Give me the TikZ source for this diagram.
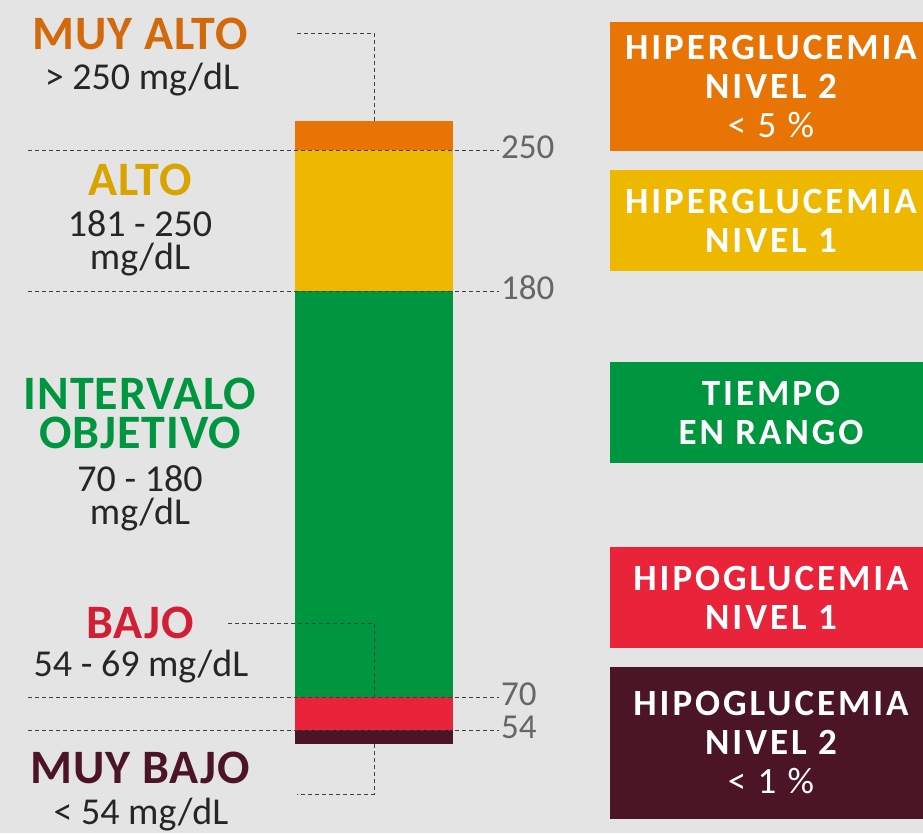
\documentclass[tikz,border=0pt]{standalone}
\usepackage{fontspec}
\setmainfont{Carlito}
\newfontfamily\boxfont[LetterSpace=8]{Carlito}
\newfontfamily\lblfont[LetterSpace=2]{Carlito}
\usetikzlibrary{positioning}

\definecolor{bgGray}{HTML}{E4E4E4}
\definecolor{cMuyAlto}{HTML}{D2690A}
\definecolor{cAlto}{HTML}{D9A400}
\definecolor{cVerde}{HTML}{00963F}
\definecolor{cBajo}{HTML}{D11F35}
\definecolor{cMuyBajo}{HTML}{4B1526}
\definecolor{fOrange}{HTML}{E97406}
\definecolor{fYellow}{HTML}{EEB800}
\definecolor{fRed}{HTML}{E8233A}

\tikzset{
  guide/.style={draw=black!75, line width=0.9pt, dash pattern=on 4pt off 3pt},
  seg/.style={minimum width=158pt, inner sep=0pt, outer sep=0pt},
  level/.style={font=\fontsize{35}{35}\selectfont, text=black!60, anchor=west, inner sep=2pt},
  lbltitle/.style={font=\lblfont\bfseries\fontsize{48}{39}\selectfont, align=center, inner sep=0pt},
  rangetxt/.style={font=\fontsize{38}{33}\selectfont, text=black!85, align=center, inner sep=0pt},
  infobox/.style={minimum width=322pt, text=white, align=center, inner sep=0pt,
    font=\boxfont\bfseries\fontsize{37}{39}\selectfont}
}

\begin{document}
\begin{tikzpicture}[x=1pt, y=-1pt]
        \fill[bgGray] (0,0) rectangle (923,833);
        \useasboundingbox (0,0) rectangle (923,833);

        % barra de niveles
        \node[seg, fill=fOrange, minimum height=29pt] (sMA) at (374,135.5) {};
        \node[seg, fill=fYellow, minimum height=141pt] (sA) at (374,220.5) {};
        \node[seg, fill=cVerde, minimum height=406pt] (sIO) at (374,494) {};
        \node[seg, fill=fRed, minimum height=33pt] (sB) at (374,713.5) {};
        \node[seg, fill=cMuyBajo, minimum height=14pt] (sMB) at (374,737) {};

        % valores
        \node[level] (n250) at (499,147) {250};
        \node[level] (n180) at (499,288) {180};
        \node[level] (n70) at (499,694) {70};
        \node[level] (n54) at (499,727) {54};

        \coordinate (l250) at (28,150);
        \coordinate (l180) at (28,291);
        \coordinate (l70) at (28,697);
        \coordinate (l54) at (28,730);

        \draw[guide] (l250) -- (l250 -| n250.west);
        \draw[guide] (l180) -- (l180 -| n180.west);
        \draw[guide] (l70) -- (l70 -| n70.west);
        \draw[guide] (l54) -- (l54 -| n54.west);

        % etiquetas izquierda
        \node[lbltitle, text=cMuyAlto] (tMA) at (140,34) {MUY ALTO};
        \node[rangetxt] (rMA) at (142,80) {> 250 mg/dL};
        \node[lbltitle, text=cAlto] (tA) at (140,180) {ALTO};
        \node[rangetxt] (rA) at (140,243) {181 - 250\\mg/dL};
        \node[lbltitle, text=cVerde] (tIO) at (140,413) {INTERVALO\\OBJETIVO};
        \node[rangetxt] (rIO) at (140,498) {70 - 180\\mg/dL};
        \node[lbltitle, text=cBajo] (tB) at (140,623) {BAJO};
        \node[rangetxt] (rB) at (141,667) {54 - 69 mg/dL};
        \node[lbltitle, text=cMuyBajo] (tMB) at (140,768) {MUY BAJO};
        \node[rangetxt] (rMB) at (141,815) {< 54 mg/dL};

        \coordinate (cMA) at (297,33);
        \coordinate (cB) at (228,623);
        \coordinate (cMB) at (297,794);

        \draw[guide] (cMA) -| (sMA.north);
        \draw[guide] (cB) -| (sB.north);
        \draw[guide] (sMB.south) |- (cMB);

        % cajas derecha
        \node[infobox, fill=fOrange, minimum height=129pt] (bH2) at (771,86.5)
            {HIPERGLUCEMIA\\NIVEL 2\\{\mdseries < 5 \%}};
        \node[infobox, fill=fYellow, minimum height=101pt] (bH1) at (771,220.5)
            {HIPERGLUCEMIA\\NIVEL 1};
        \node[infobox, fill=cVerde, minimum height=101pt] (bTR) at (771,412.5)
            {TIEMPO\\EN RANGO};
        \node[infobox, fill=fRed, minimum height=101pt] (bL1) at (771,597.5)
            {HIPOGLUCEMIA\\NIVEL 1};
        \node[infobox, fill=cMuyBajo, minimum height=152pt] (bL2) at (771,743)
            {HIPOGLUCEMIA\\NIVEL 2\\{\mdseries < 1 \%}};
    \end{tikzpicture}
\end{document}
